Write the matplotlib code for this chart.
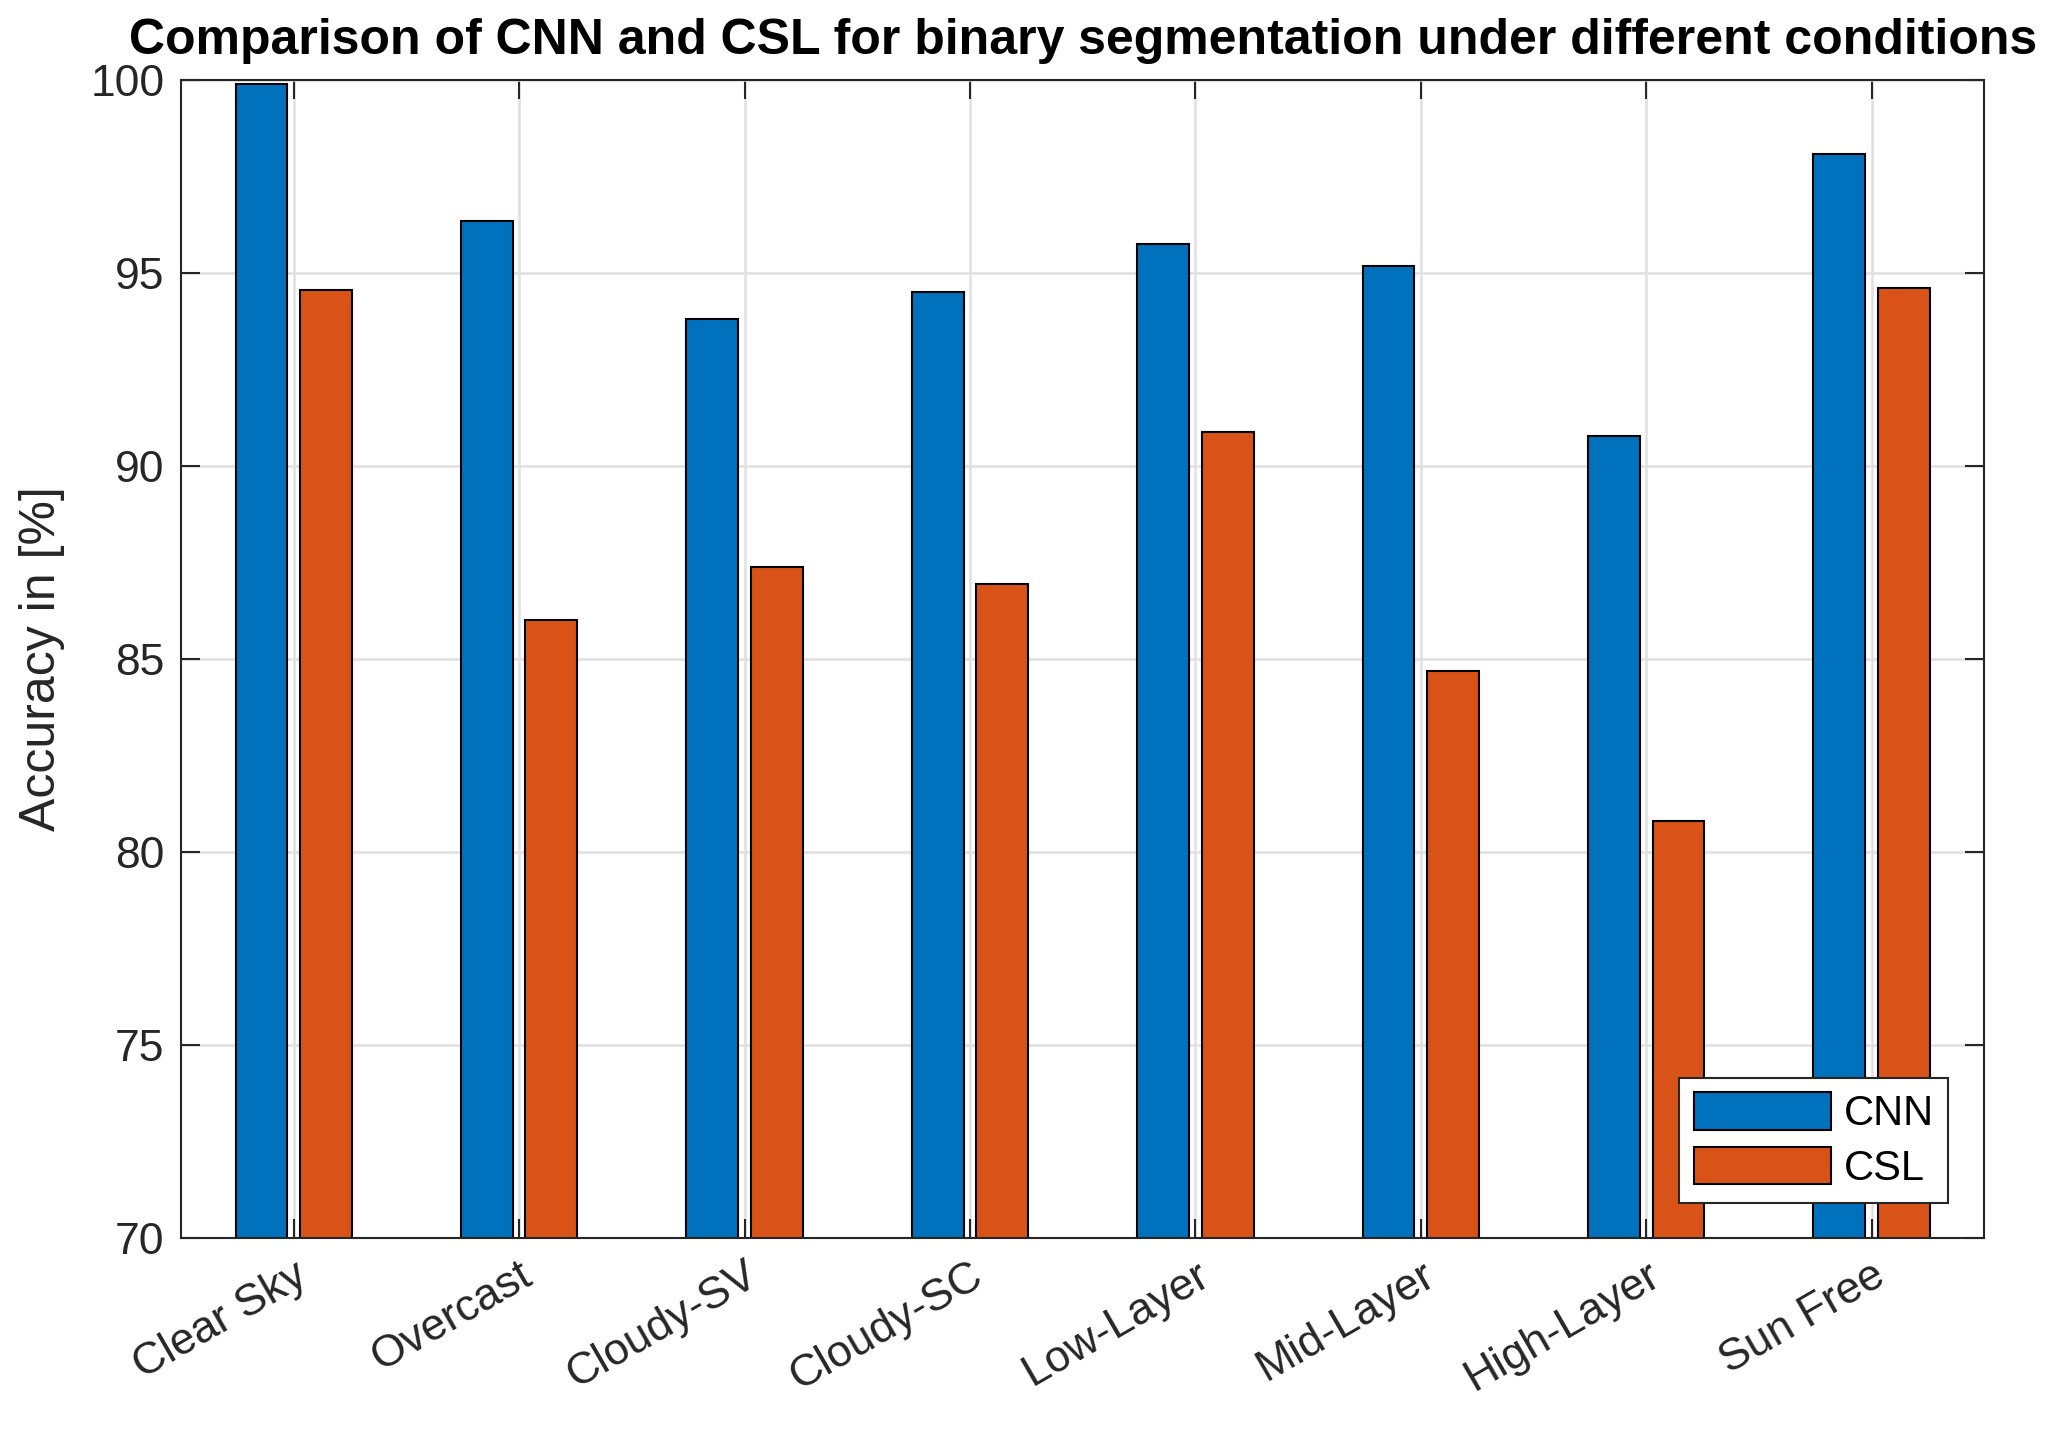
import numpy as np
import matplotlib
matplotlib.use("Agg")
import matplotlib.pyplot as plt

condicoes = ["Clear Sky", "Overcast", "Cloudy-SV", "Cloudy-SC",
             "Low-Layer", "Mid-Layer", "High-Layer", "Sun Free"]
cnn = [99.9, 96.35, 93.8, 94.52, 95.75, 95.18, 90.79, 98.08]
csl = [94.56, 86.02, 87.39, 86.95, 90.88, 84.7, 80.8, 94.62]
y_ticks = [70, 75, 80, 85, 90, 95, 100]

AZUL = (0.0, 0.447, 0.741)
LARANJA = (0.85, 0.325, 0.098)
CINZA = (0.15, 0.15, 0.15)

plt.rcParams["font.family"] = ["Liberation Sans", "DejaVu Sans"]

fig = plt.figure(figsize=(20.67, 14.29), dpi=100)
ax = fig.add_axes([0.0876, 0.1337, 0.8724, 0.8103])

x = np.arange(1, len(condicoes) + 1)
largura = 0.23
desloc = 0.143

ax.bar(x - desloc, cnn, largura, color=AZUL, edgecolor="black",
       linewidth=1.5, label="CNN", zorder=3)
ax.bar(x + desloc, csl, largura, color=LARANJA, edgecolor="black",
       linewidth=1.5, label="CSL", zorder=3)

ax.set_xlim(0.5, 8.5)
ax.set_ylim(70, 100)
ax.set_yticks(y_ticks)
ax.set_xticks(x)
ax.set_xticklabels(condicoes, rotation=30, ha="right",
                   rotation_mode="anchor", fontsize=32, color=CINZA)
ax.tick_params(axis="y", labelsize=32, labelcolor=CINZA)
ax.tick_params(axis="both", direction="in", length=14, width=1.5,
               color=CINZA, top=True, right=True, pad=12)

ax.grid(True, color=(0.88, 0.88, 0.88), linewidth=1.8, zorder=0)
ax.set_axisbelow(True)
for s in ax.spines.values():
    s.set_color(CINZA)
    s.set_linewidth(1.5)
    s.set_zorder(4)

ax.set_ylabel("Accuracy in [%]", fontsize=36, color=CINZA, labelpad=18)
ax.set_title("Comparison of CNN and CSL for binary segmentation under different conditions",
             fontsize=36, fontweight="bold", pad=19)

leg = ax.legend(loc="lower right", bbox_to_anchor=(0.98, 0.03),
                fontsize=30, fancybox=False, framealpha=1,
                handlelength=3.3, handleheight=1.0, borderpad=0.35,
                labelspacing=0.3, handletextpad=0.3, borderaxespad=0)
leg.get_frame().set_edgecolor(CINZA)
leg.get_frame().set_linewidth(1.5)

fig.savefig("out.png", dpi=100)
